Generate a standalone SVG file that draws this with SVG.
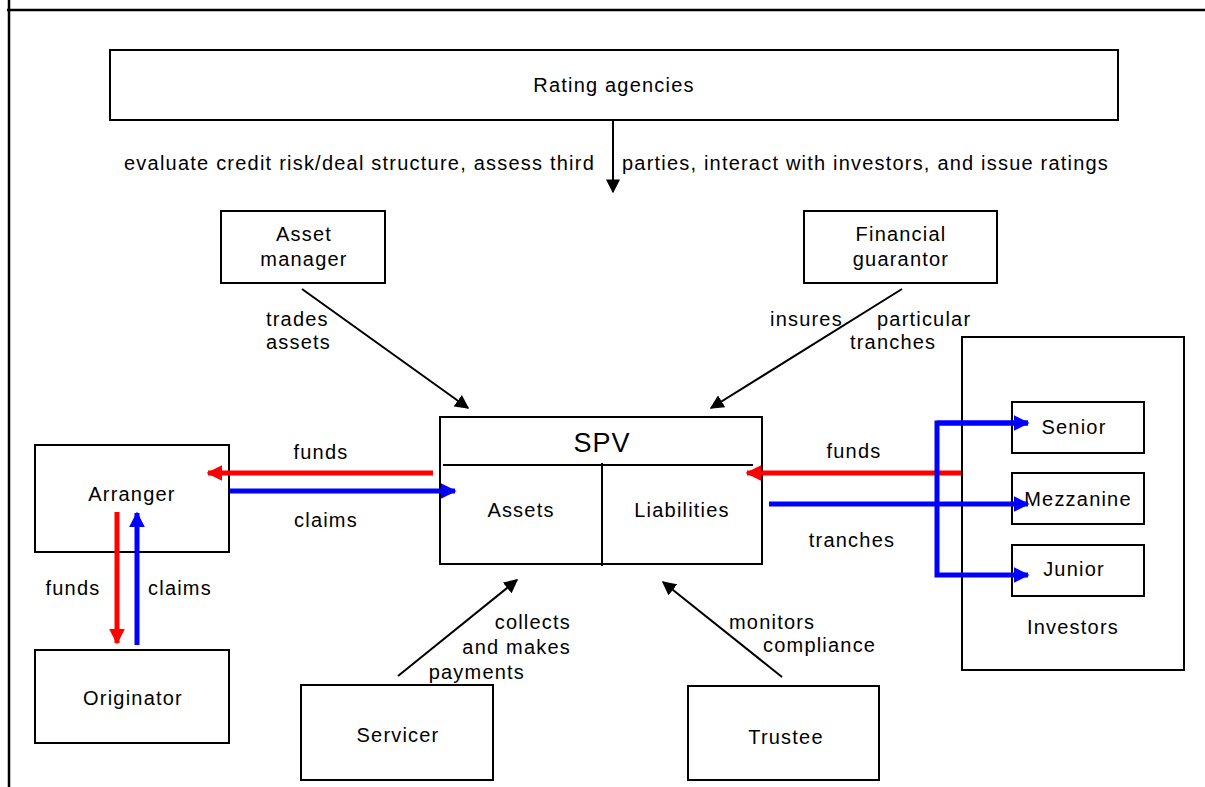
<svg xmlns="http://www.w3.org/2000/svg" width="1205" height="787" viewBox="0 0 1205 787">
<style>
text{font-family:"Liberation Sans",Arial,sans-serif;font-size:20px;letter-spacing:1.2px;fill:#000;text-anchor:middle}
.box{fill:#fff;stroke:#000;stroke-width:2}
.ln{stroke:#000;stroke-width:2;fill:none}
.red{stroke:#ff0000;stroke-width:5;fill:none}
.blue{stroke:#0000ff;stroke-width:5;fill:none}
</style>
<defs>
<marker id="ak2" viewBox="0 0 10 10" refX="9" refY="5" markerWidth="14" markerHeight="14" markerUnits="userSpaceOnUse" orient="auto"><path d="M0,0 L10,5 L0,10 z" fill="#000"/></marker>
<marker id="ar" viewBox="0 0 10 10" refX="9" refY="5" markerWidth="16" markerHeight="16" markerUnits="userSpaceOnUse" orient="auto"><path d="M0,0 L10,5 L0,10 z" fill="#ff0000"/></marker>
<marker id="ab" viewBox="0 0 10 10" refX="9" refY="5" markerWidth="16" markerHeight="16" markerUnits="userSpaceOnUse" orient="auto"><path d="M0,0 L10,5 L0,10 z" fill="#0000ff"/></marker>
</defs>
<rect width="1205" height="787" fill="#fff"/>
<g id="frame">
<line x1="7" y1="10" x2="1205" y2="10" stroke="#000" stroke-width="2.5"/>
<line x1="9" y1="0" x2="9" y2="787" stroke="#000" stroke-width="2.5"/>
</g>
<g id="rating"><rect class="box" x="110" y="50" width="1008" height="70"/><text x="614" y="92">Rating agencies</text></g>
<g id="assetmgr"><rect class="box" x="221" y="211" width="164" height="72"/><text x="304" y="241">Asset</text><text x="304" y="266">manager</text></g>
<g id="guarantor"><rect class="box" x="804" y="211" width="193" height="72"/><text x="901" y="241">Financial</text><text x="901" y="266">guarantor</text></g>
<g id="spv"><rect class="box" x="440" y="417" width="322" height="147"/>
<line class="ln" x1="443" y1="465" x2="753" y2="465"/><line class="ln" x1="602" y1="463" x2="602" y2="566"/>
<text x="602" y="452" style="font-size:27px;letter-spacing:1px">SPV</text><text x="521" y="517">Assets</text><text x="682" y="517">Liabilities</text></g>
<g id="arranger"><rect class="box" x="35" y="445" width="194" height="107"/><text x="132" y="501">Arranger</text></g>
<g id="originator"><rect class="box" x="35" y="650" width="194" height="93"/><text x="133" y="705">Originator</text></g>
<g id="servicer"><rect class="box" x="301" y="685" width="192" height="95"/><text x="398" y="742">Servicer</text></g>
<g id="trustee"><rect class="box" x="688" y="686" width="191" height="94"/><text x="786" y="744">Trustee</text></g>
<g id="investors"><rect class="box" x="962" y="337" width="222" height="333"/><text x="1073" y="634">Investors</text></g>
<g id="senior"><rect class="box" x="1012" y="402" width="132" height="51"/><text x="1074" y="434">Senior</text></g>
<g id="mezzanine"><rect class="box" x="1012" y="473" width="132" height="51"/><text x="1078" y="506">Mezzanine</text></g>
<g id="junior"><rect class="box" x="1012" y="545" width="132" height="51"/><text x="1074" y="576">Junior</text></g>
<g id="connectors">
<line class="ln" x1="613" y1="120" x2="613" y2="192" marker-end="url(#ak2)"/>
<line class="ln" x1="302" y1="289" x2="468" y2="408" marker-end="url(#ak2)"/>
<line class="ln" x1="902" y1="289" x2="711" y2="408" marker-end="url(#ak2)"/>
<line class="ln" x1="398" y1="676" x2="517" y2="580" marker-end="url(#ak2)"/>
<line class="ln" x1="782" y1="677" x2="663" y2="582" marker-end="url(#ak2)"/>
<line class="red" x1="433" y1="473" x2="208" y2="473" marker-end="url(#ar)"/>
<line class="blue" x1="230" y1="491" x2="455" y2="491" marker-end="url(#ab)"/>
<line class="red" x1="117" y1="512" x2="117" y2="643" marker-end="url(#ar)"/>
<line class="blue" x1="137" y1="645" x2="137" y2="513" marker-end="url(#ab)"/>
<line class="red" x1="961" y1="473" x2="747" y2="473" marker-end="url(#ar)"/>
<line class="blue" x1="769" y1="504" x2="1028" y2="504" marker-end="url(#ab)"/>
<polyline class="blue" points="1028,423 937,423 937,575 1028,575" marker-end="url(#ab)"/>
<line class="blue" x1="937" y1="423" x2="1028" y2="423" marker-end="url(#ab)"/>
</g>
<g id="labels">
<text x="124" y="170" style="text-anchor:start" textLength="471" lengthAdjust="spacing">evaluate credit risk/deal structure, assess third</text>
<text x="622" y="170" style="text-anchor:start" textLength="487" lengthAdjust="spacing">parties, interact with investors, and issue ratings</text>
<text x="266" y="326" style="text-anchor:start">trades</text><text x="266" y="349" style="text-anchor:start">assets</text>
<text x="770" y="326" style="text-anchor:start">insures</text><text x="877" y="326" style="text-anchor:start">particular</text><text x="850" y="349" style="text-anchor:start">tranches</text>
<text x="321" y="459">funds</text><text x="326" y="527">claims</text>
<text x="73" y="595">funds</text><text x="180" y="595">claims</text>
<text x="854" y="458">funds</text><text x="852" y="547">tranches</text>
<text x="571" y="629" style="text-anchor:end">collects</text>
<text x="571" y="654" style="text-anchor:end">and makes</text>
<text x="525" y="679" style="text-anchor:end">payments</text>
<text x="729" y="629" style="text-anchor:start">monitors</text><text x="763" y="652" style="text-anchor:start">compliance</text>
</g>
</svg>
